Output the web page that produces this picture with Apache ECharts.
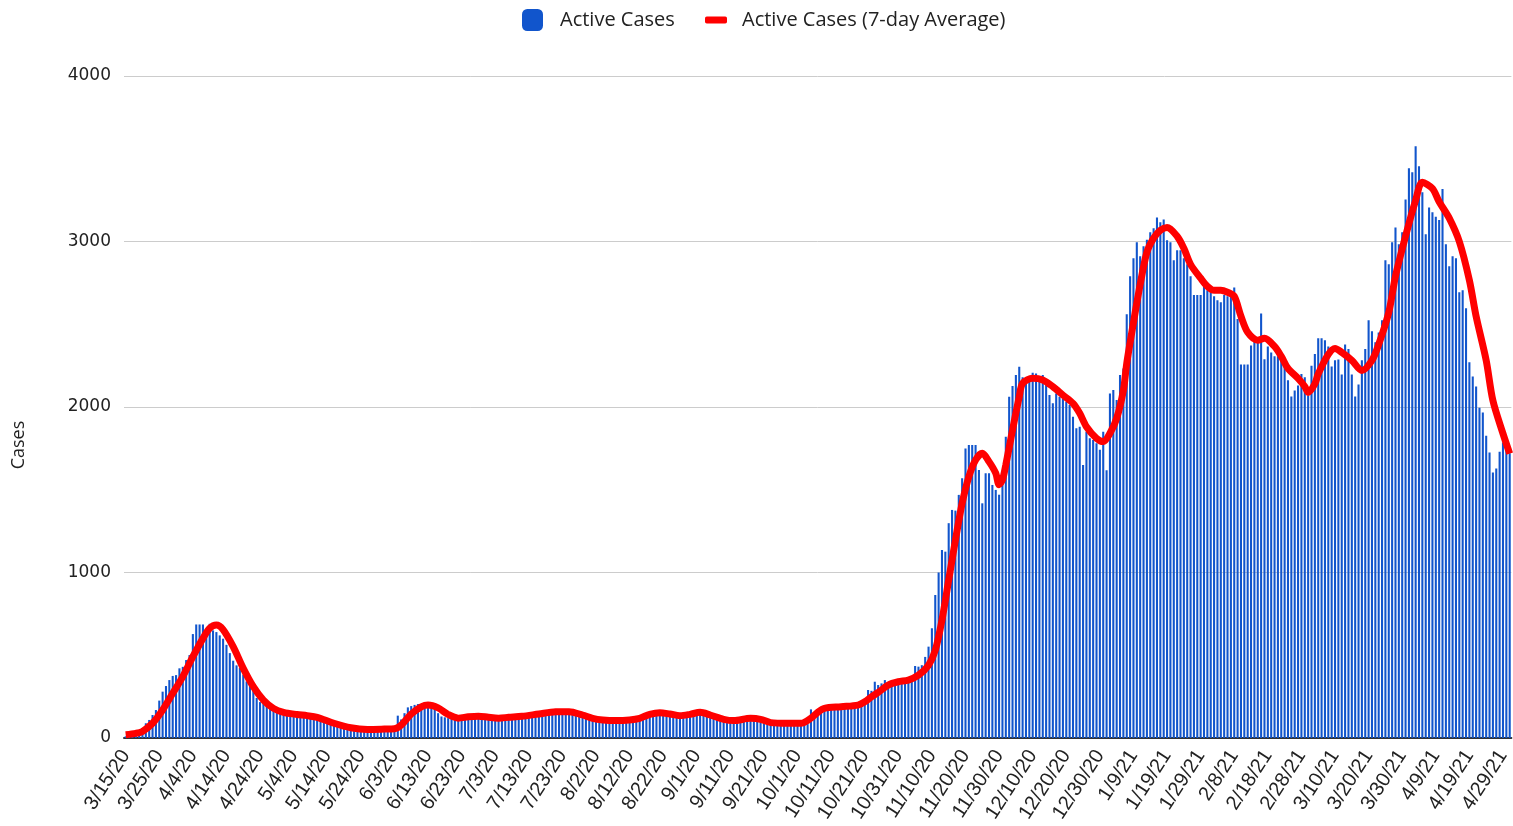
<!DOCTYPE html>
<html>
<head>
<meta charset="utf-8">
<script src="https://cdn.jsdelivr.net/npm/echarts@6/dist/echarts.min.js"></script>
<style>
html,body{margin:0;padding:0;background:#fff;}
#chart{width:1513px;height:826px;}
</style>
</head>
<body>
<div id="chart"></div>
<script>
// Categories: daily dates from 3/15/20 to 5/1/21
const startDate = [2020, 2, 15];
const dayCount = 413;
const categories = [];
for (let k = 0; k < dayCount; k++) {
  const d = new Date(Date.UTC(startDate[0], startDate[1], startDate[2] + k));
  categories.push((d.getUTCMonth() + 1) + '/' + d.getUTCDate() + '/' + String(d.getUTCFullYear()).slice(2));
}

const yTicks = [0, 1000, 2000, 3000, 4000];

// Daily active cases (bars)
const activeCases = [
10,12,15,20,30,50,89,109,139,169,
226,280,314,350,375,380,421,430,471,501,
628,686,686,686,660,690,650,640,620,600,
563,513,467,439,423,383,342,322,292,242,
217,211,205,201,191,171,161,160,155,152,
150,148,145,140,135,130,125,118,110,104,
98,92,86,80,74,68,63,58,54,50,
48,46,45,46,48,50,52,53,55,54,
58,135,112,150,185,193,200,205,203,200,
198,190,180,150,130,125,120,118,115,115,
118,120,122,124,125,124,122,120,118,116,
115,115,116,118,120,120,122,124,125,127,
130,133,136,139,142,145,148,150,150,152,
152,150,150,147,143,138,132,125,118,112,
106,102,100,98,97,96,96,97,98,99,
100,103,107,112,120,130,136,140,142,140,
137,134,131,128,127,128,131,135,139,142,
145,146,143,138,130,122,115,108,103,100,
99,100,102,104,106,108,108,106,103,98,
93,88,84,82,80,79,79,78,78,78,
79,80,82,84,173,150,165,172,175,176,
178,180,182,184,185,187,190,193,198,215,
235,290,285,340,320,330,350,320,340,338,
345,340,342,345,350,435,431,440,490,552,
663,864,1000,1136,1126,1298,1378,1374,1469,1570,
1750,1770,1770,1770,1620,1418,1600,1600,1529,1499,
1470,1540,1820,2062,2127,2193,2243,2180,2163,2183,
2207,2203,2163,2193,2143,2072,2022,2082,2062,2052,
2032,2012,1941,1871,1881,1650,1851,1811,1801,1781,
1741,1851,1618,2082,2103,2042,2193,2233,2560,2790,
2899,2995,2911,2971,3010,3056,3080,3145,3116,3133,
3007,2995,2887,2947,2947,2899,2862,2790,2676,2676,
2676,2729,2705,2693,2669,2645,2633,2676,2669,2669,
2722,2531,2257,2257,2257,2371,2415,2391,2565,2289,
2366,2330,2306,2306,2282,2245,2161,2064,2100,2130,
2200,2180,2070,2250,2320,2415,2415,2403,2366,2245,
2282,2287,2197,2378,2350,2197,2064,2136,2282,2350,
2524,2458,2391,2450,2524,2887,2862,2995,3085,2983,
3056,3254,3443,3418,3576,3455,3298,3044,3205,3177,
3150,3130,3317,2983,2850,2911,2899,2693,2705,2596,
2270,2185,2124,1996,1967,1827,1725,1604,1628,1730,
1786,1761,1720
];

// 7-day average line, read at day positions: [dayIndex, value]
const avgPoints = [
[0,20],[3,28],[5,40],[8,89],[11,169],[14,270],[17,371],[20,491],[23,602],[25,663],
[27,683],[29,655],[32,552],[35,421],[38,310],[41,229],[44,179],[47,155],[51,142],[54,135],
[57,125],[62,89],[67,62],[72,52],[77,54],[80,56],[82,78],[85,145],[88,188],[90,199],
[93,182],[96,142],[99,120],[102,128],[105,132],[108,125],[111,120],[114,125],[118,131],[123,145],
[128,158],[132,159],[136,139],[139,119],[142,109],[146,105],[150,109],[153,119],[156,143],[159,153],
[162,145],[165,135],[168,143],[171,155],[174,139],[178,113],[181,105],[186,119],[189,113],[192,93],
[197,89],[201,89],[204,120],[206,155],[208,179],[213,189],[218,199],[220,219],[222,249],[224,275],
[227,320],[230,340],[233,350],[236,380],[239,440],[241,530],[243,713],[245,955],[247,1196],[249,1418],
[251,1579],[253,1680],[255,1720],[257,1670],[259,1600],[260,1530],[261,1560],[262,1650],[264,1861],[266,2062],
[267,2143],[270,2173],[273,2163],[276,2123],[279,2072],[282,2022],[284,1962],[286,1881],[289,1811],[291,1791],
[293,1841],[295,1931],[297,2100],[298,2263],[300,2510],[302,2741],[304,2935],[306,3020],[308,3068],[310,3085],
[313,3032],[315,2959],[317,2862],[320,2778],[322,2729],[324,2705],[326,2705],[328,2693],[330,2669],[332,2548],
[334,2451],[337,2403],[339,2415],[342,2366],[344,2306],[346,2233],[349,2173],[351,2124],[352,2088],[354,2140],
[355,2200],[358,2318],[360,2354],[362,2330],[365,2282],[368,2221],[371,2282],[373,2378],[376,2572],[378,2790],
[381,3032],[384,3249],[386,3358],[389,3320],[391,3240],[394,3141],[397,3000],[400,2766],[402,2548],[405,2282],
[407,2039],[410,1839],[412,1718]
];

const chart = echarts.init(document.getElementById('chart'), null, {renderer: 'canvas'});
const textColor = '#222222';
chart.setOption({
  animation: false,
  backgroundColor: '#ffffff',
  legend: [
    {
      data: [{name: 'Active Cases', icon: 'roundRect'}],
      left: 522, top: 9, padding: 0,
      itemWidth: 21, itemHeight: 22, itemGap: 0,
      textStyle: {fontFamily: 'Open Sans', fontSize: 20, color: textColor, padding: [0, 0, 0, 12]}
    },
    {
      data: [{name: 'Active Cases (7-day Average)', icon: 'roundRect'}],
      left: 705, top: 10, padding: 0,
      itemWidth: 22, itemHeight: 7, itemGap: 0,
      textStyle: {fontFamily: 'Open Sans', fontSize: 20, color: textColor, padding: [0, 0, 0, 10]}
    }
  ],
  grid: {left: 124, right: 0, top: 76, bottom: 88, containLabel: false},
  xAxis: [
    {
      type: 'category',
      data: categories,
      boundaryGap: true,
      axisLine: {show: true, lineStyle: {color: '#333333', width: 2}},
      axisTick: {show: false},
      axisLabel: {
        interval: 9, rotate: 57, margin: 14,
        padding: [14, 0, 0, 0],
        fontFamily: 'Liberation Sans', fontSize: 20, color: textColor
      }
    },
    {
      type: 'value', show: false,
      min: -0.5, max: dayCount - 0.5
    }
  ],
  yAxis: {
    type: 'value',
    min: 0, max: yTicks[yTicks.length - 1], interval: 1000,
    name: 'Cases', nameLocation: 'middle', nameGap: 96,
    nameTextStyle: {fontFamily: 'Open Sans', fontSize: 18, color: textColor, padding: [0, 76, 0, 0]},
    axisLine: {show: false},
    axisTick: {show: false},
    splitLine: {lineStyle: {color: '#cccccc', width: 1}},
    axisLabel: {
      fontFamily: 'DejaVu Sans', fontSize: 17, color: textColor, margin: 13,
      formatter: function (v) { return String(v); }
    }
  },
  series: [
    {
      name: 'Active Cases',
      type: 'bar',
      data: activeCases,
      barWidth: '62%',
      itemStyle: {color: '#1155cc'},
      xAxisIndex: 0
    },
    {
      name: 'Active Cases (7-day Average)',
      type: 'line',
      xAxisIndex: 1,
      data: avgPoints,
      smooth: 0.3,
      showSymbol: false,
      symbol: 'none',
      lineStyle: {color: '#ff0000', width: 7},
      itemStyle: {color: '#ff0000'},
      z: 5
    }
  ]
});
</script>
</body>
</html>
